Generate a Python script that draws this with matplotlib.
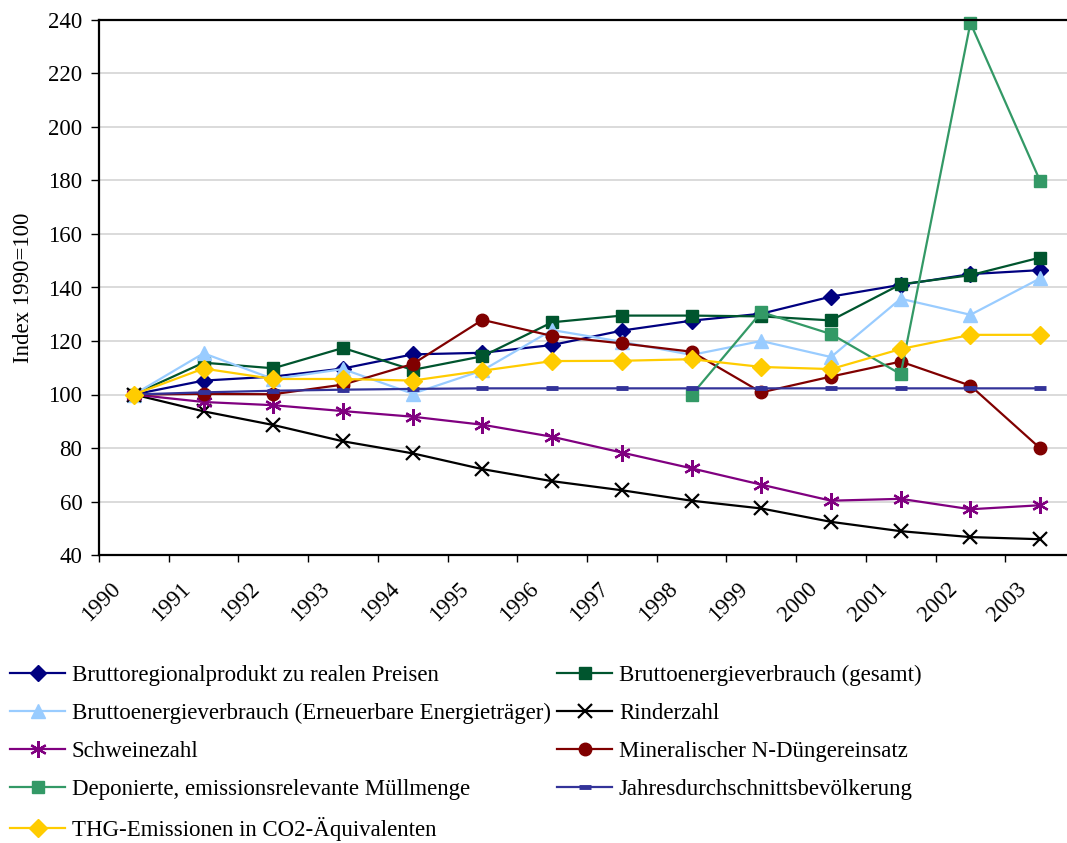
import numpy as np
import matplotlib
matplotlib.use('Agg')
import matplotlib.pyplot as plt
import matplotlib.transforms as mtransforms

plt.rcParams['font.family'] = ['Liberation Serif', 'DejaVu Serif']

years = ['1990', '1991', '1992', '1993', '1994', '1995', '1996',
         '1997', '1998', '1999', '2000', '2001', '2002', '2003']

brp = [100, 105.2, 106.7, 109.7, 115.0, 115.6, 118.5, 123.9, 127.6, 130.2, 136.6, 141.0, 145.0, 146.5]
bev_gesamt = [100, 111.9, 109.8, 117.4, 109.2, 114.3, 127.0, 129.5, 129.5, 129.2, 127.7, 141.2, 144.6, 151.2]
bev_erneuerbar = [100, 115.4, 105.8, 109.5, 100.3, 109.0, 124.1, 119.7, 114.8, 120.0, 114.0, 135.8, 129.8, 143.4]
rinder = [100, 93.7, 88.6, 82.5, 78.0, 72.1, 67.6, 64.2, 60.3, 57.4, 52.4, 48.9, 46.7, 45.9]
schweine = [100, 97.2, 96.0, 93.8, 91.7, 88.7, 84.2, 78.3, 72.4, 66.3, 60.3, 61.0, 57.1, 58.6]
n_duenger = [100, 100.2, 100.1, 103.7, 111.4, 127.9, 121.9, 119.1, 116.0, 100.8, 106.7, 112.3, 103.3, 79.9]
muell = [np.nan] * 8 + [99.8, 130.8, 122.6, 107.6, 238.9, 179.8]
bevoelkerung = [100, 100.8, 101.4, 101.8, 102.1, 102.3, 102.3, 102.3, 102.3, 102.3, 102.3, 102.3, 102.3, 102.3]
thg = [100, 109.7, 105.8, 105.8, 105.2, 108.9, 112.5, 112.6, 113.2, 110.3, 109.5, 117.0, 122.3, 122.3]

series = [
    ('Bruttoregionalprodukt zu realen Preisen', brp, '#000080', 'D', 8, 1.0),
    ('Bruttoenergieverbrauch (gesamt)', bev_gesamt, '#00552E', 's', 9, 1.0),
    ('Bruttoenergieverbrauch (Erneuerbare Energieträger)', bev_erneuerbar, '#99CCFF', '^', 10, 1.0),
    ('Rinderzahl', rinder, '#000000', 'x', 10, 1.6),
    ('Schweinezahl', schweine, '#800080', (6, 2, 0), 12, 1.6),
    ('Mineralischer N-Düngereinsatz', n_duenger, '#800000', 'o', 9, 1.0),
    ('Deponierte, emissionsrelevante Müllmenge', muell, '#339966', 's', 8, 1.0),
    ('Jahresdurchschnittsbevölkerung', bevoelkerung, '#333399', '_', 8, 3.5),
    ('THG-Emissionen in CO2-Äquivalenten', thg, '#FFCC00', 'D', 9, 1.0),
]

fs = 16.5

fig = plt.figure(figsize=(10.67, 8.43), dpi=100)
ax = fig.add_axes([99 / 1067, 1 - 555 / 843, 976 / 1067, 535 / 843])

x = np.arange(len(years))
handles = []
for name, vals, col, mk, ms, mew in series:
    h, = ax.plot(x, vals, color=col, lw=1.6, marker=mk, markersize=ms,
                 markerfacecolor=col, markeredgecolor=col, markeredgewidth=mew,
                 label=name, clip_on=False)
    handles.append(h)

ax.set_xlim(-0.5, len(years) - 0.5)
ax.set_ylim(40, 240)
ax.set_yticks(np.arange(40, 241, 20))
ax.yaxis.grid(True, color='#d4d4d4', lw=1.2)
ax.set_axisbelow(True)

ax.set_xticks(x)
ax.set_xticklabels(years, rotation=45, ha='right', rotation_mode='anchor', fontsize=fs)
ax.tick_params(axis='x', which='major', length=0, pad=17)
ax.set_xticks(np.arange(-0.5, len(years)), minor=True)
ax.tick_params(axis='x', which='minor', length=5, width=1, direction='out')
ax.tick_params(axis='y', length=6, width=1, labelsize=fs, pad=6)

# Excel puts the rotated labels a bit left of the category centre
shift = mtransforms.ScaledTranslation(-24 / 100, 0, fig.dpi_scale_trans)
for lab in ax.get_xticklabels():
    lab.set_transform(lab.get_transform() + shift)

for sp in ax.spines.values():
    sp.set_linewidth(1.6)
    sp.set_color('black')

ax.set_ylabel('Index 1990=100', fontsize=fs, labelpad=10)

left = [handles[i] for i in (0, 2, 4, 6, 8)]
right = [handles[i] for i in (1, 3, 5, 7)]
leg_kw = dict(frameon=False, fontsize=fs, handlelength=2.4, handletextpad=0.3,
              labelspacing=0.74, borderaxespad=0, borderpad=0)
fig.legend(handles=left, loc='upper left', bbox_to_anchor=(10 / 1067, 1 - 665 / 843), **leg_kw)
fig.legend(handles=right, loc='upper left', bbox_to_anchor=(557 / 1067, 1 - 665 / 843), **leg_kw)

fig.savefig('out.png', dpi=100)
